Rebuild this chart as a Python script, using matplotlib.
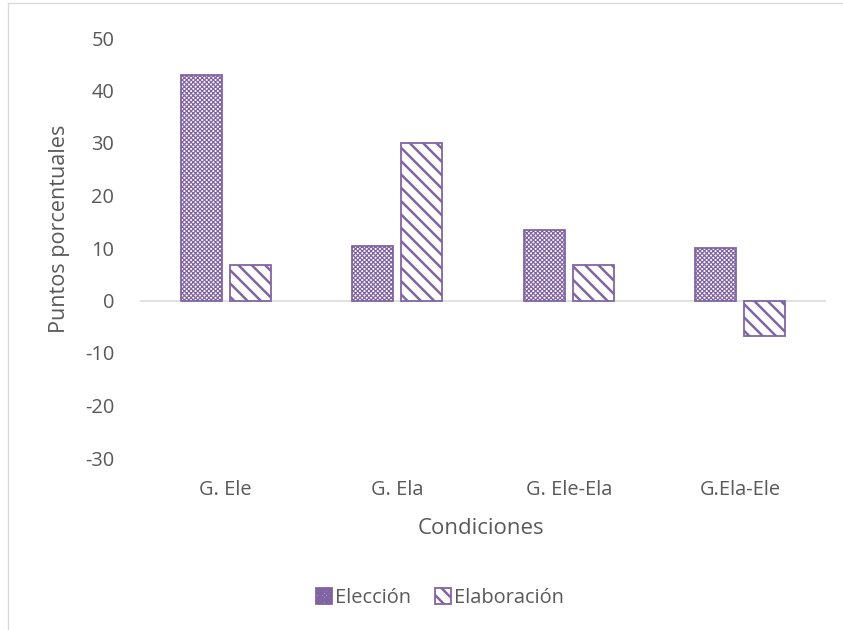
import matplotlib
matplotlib.use("Agg")
import matplotlib.pyplot as plt
from matplotlib.lines import Line2D
import numpy as np

condiciones = ["G. Ele", "G. Ela", "G. Ele-Ela", "G.Ela-Ele"]
eleccion = [43.0, 10.3, 13.5, 10.0]
elaboracion = [6.7, 30.0, 6.7, -6.7]
yticks = [-30, -20, -10, 0, 10, 20, 30, 40, 50]

PURPLE = "#8064A2"
TEXT = "#595959"
LINE = "#D9D9D9"

plt.rcParams["font.family"] = ["Open Sans", "DejaVu Sans"]

DPI = 80
fig = plt.figure(figsize=(843 / DPI, 630 / DPI), dpi=DPI)
ax = fig.add_axes([140 / 843, 1 - 458 / 630, 686 / 843, 420 / 630])

x = np.arange(len(condiciones))
w = 0.24
off = 0.143

# fine cross pattern for the first series, wide diagonal stripes for the second
plt.rcParams["hatch.linewidth"] = 1.1
ax.bar(x - off, eleccion, w, facecolor="white", edgecolor=PURPLE,
       hatch="xxxxxx", linewidth=1.6, label="Elección", zorder=3)
plt.rcParams["hatch.linewidth"] = 2.2
ax.bar(x + off, elaboracion, w, facecolor="white", edgecolor=PURPLE,
       hatch="\\\\", linewidth=1.6, label="Elaboración", zorder=3)

ax.axhline(0, color=LINE, linewidth=1.4, zorder=2)

ax.set_xlim(-0.5, len(condiciones) - 0.5)
ax.set_ylim(-30, 50)
ax.set_yticks(yticks)
ax.set_yticklabels([str(v) for v in yticks])
ax.set_xticks(x)
ax.set_xticklabels(condiciones)
ax.tick_params(axis="both", length=0, colors=TEXT, labelsize=18)
ax.tick_params(axis="y", pad=23)
ax.tick_params(axis="x", pad=20)
for s in ax.spines.values():
    s.set_visible(False)

ax.set_xlabel("Condiciones", fontsize=20, color=TEXT)
ax.xaxis.label.set_va("center")
ax.xaxis.set_label_coords(0.497, (458 - 528) / 420)
ax.set_ylabel("Puntos porcentuales", fontsize=19.5, color=TEXT)
ax.yaxis.label.set_va("center")
ax.yaxis.set_label_coords((60 - 140) / 686, (458 - 229) / 420)

leg = ax.legend(loc="center", bbox_to_anchor=(440 / 843, 1 - 598 / 630),
                bbox_transform=fig.transFigure, ncol=2, frameon=False,
                fontsize=18, handlelength=0.8, handleheight=0.8,
                handletextpad=0.15, columnspacing=1.2)
for t in leg.get_texts():
    t.set_color(TEXT)

# chart-area border (left and top edges)
fig.add_artist(Line2D([8 / 843, 8 / 843], [0, 1 - 3 / 630],
                      transform=fig.transFigure, color=LINE, linewidth=1.2))
fig.add_artist(Line2D([8 / 843, 1], [1 - 3 / 630, 1 - 3 / 630],
                      transform=fig.transFigure, color=LINE, linewidth=1.2))

fig.savefig("out.png", dpi=DPI)
